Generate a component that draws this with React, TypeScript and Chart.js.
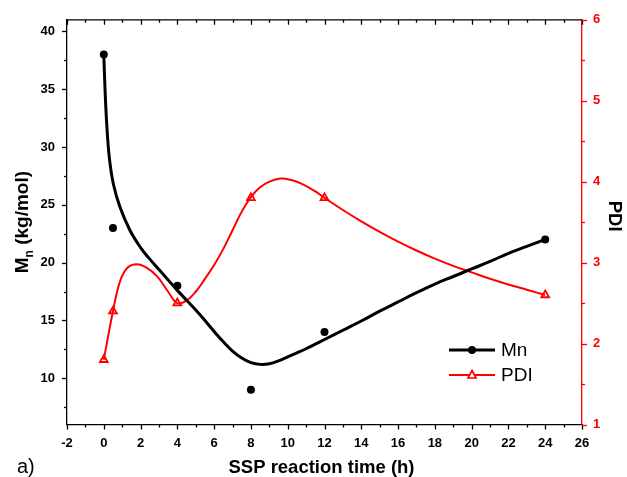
import React, { useEffect, useRef } from "react";
import { Chart, registerables } from "chart.js";

Chart.register(...registerables);

// ---- data ----
const xTickValues = [-2, 0, 2, 4, 6, 8, 10, 12, 14, 16, 18, 20, 22, 24, 26];
const mnTickValues = [10, 15, 20, 25, 30, 35, 40];
const pdiTickValues = [1, 2, 3, 4, 5, 6];

const timeH = [0, 0.5, 4, 8, 12, 24];
const mnValues = [38, 23, 18, 9, 14, 22];
const pdiValues = [1.8, 2.4, 2.5, 3.8, 3.8, 2.6];

// smooth fit curves
const mnCurveX = [0, 0.07, 0.16, 0.3, 0.52, 0.88, 1.42, 2.0, 2.5, 3.0, 3.5, 4.0, 4.5, 5.0, 5.5, 6.0, 6.5, 7.0, 7.5, 8.0, 8.5, 9.0, 9.5, 10.0, 10.5, 11.0, 11.5, 12, 13, 14, 15, 16, 17, 18, 19, 20, 21, 22, 23, 24];
const mnCurveY = [38, 34.9, 32.0, 29.1, 26.8, 24.8, 22.8, 21.3, 20.3, 19.4, 18.5, 17.6, 16.75, 15.9, 15.0, 14.05, 13.15, 12.35, 11.75, 11.35, 11.2, 11.25, 11.5, 11.85, 12.2, 12.55, 12.95, 13.35, 14.15, 14.95, 15.8, 16.6, 17.4, 18.15, 18.8, 19.45, 20.1, 20.8, 21.4, 22.0];

const pdiCurveX = [0, 0.5, 0.9, 1.3, 1.8, 2.3, 2.9, 3.5, 4.0, 4.5, 5.0, 5.5, 6.0, 6.5, 7.0, 7.5, 8.0, 8.5, 9.0, 9.6, 10.2, 10.8, 11.5, 12, 13, 14, 15, 16, 17, 18, 19, 20, 21, 22, 23, 24];
const pdiCurveY = [1.8, 2.4, 2.78, 2.94, 2.98, 2.94, 2.83, 2.64, 2.5, 2.53, 2.64, 2.8, 2.97, 3.17, 3.4, 3.63, 3.81, 3.93, 4.0, 4.04, 4.02, 3.97, 3.88, 3.8, 3.65, 3.51, 3.38, 3.26, 3.15, 3.05, 2.96, 2.88, 2.8, 2.73, 2.665, 2.6];

const xMin = -2, xMax = 26;
const mnMin = 6, mnMax = 41;
const pdiMin = 1, pdiMax = 6;

const FONT = "'Liberation Sans', Arial, Helvetica, sans-serif";
const RED = "#ff0000";

const decorPlugin = {
  id: "decor",
  afterDraw(chart: any) {
    const ctx = chart.ctx;
    const ca = chart.chartArea;
    const sx = chart.scales.x;
    const sy = chart.scales.y;
    const sy1 = chart.scales.y1;
    ctx.save();
    ctx.lineWidth = 1.3;
    // top frame line
    ctx.strokeStyle = "#000";
    ctx.beginPath();
    ctx.moveTo(ca.left, ca.top);
    ctx.lineTo(ca.right, ca.top);
    ctx.stroke();
    // x ticks (bottom outward, top inward)
    for (let v = xMin; v <= xMax; v += 1) {
      const major = (v - xMin) % 2 === 0;
      const len = major ? 5 : 3;
      const px = Math.round(sx.getPixelForValue(v)) + 0.5;
      ctx.beginPath();
      ctx.moveTo(px, ca.bottom);
      ctx.lineTo(px, ca.bottom + len);
      ctx.moveTo(px, ca.top);
      ctx.lineTo(px, ca.top + len);
      ctx.stroke();
    }
    // left ticks
    for (let v = 7.5; v <= mnMax; v += 2.5) {
      const major = v % 5 === 0;
      const len = major ? 5 : 3;
      const py = Math.round(sy.getPixelForValue(v)) + 0.5;
      ctx.beginPath();
      ctx.moveTo(ca.left, py);
      ctx.lineTo(ca.left - len, py);
      ctx.stroke();
    }
    // right ticks
    ctx.strokeStyle = RED;
    for (let v = pdiMin; v <= pdiMax + 0.001; v += 0.5) {
      const major = Math.abs(v - Math.round(v)) < 0.01;
      const len = major ? 5 : 3;
      const py = Math.round(sy1.getPixelForValue(v)) + 0.5;
      ctx.beginPath();
      ctx.moveTo(ca.right, py);
      ctx.lineTo(ca.right + len, py);
      ctx.stroke();
    }

    // axis titles
    ctx.fillStyle = "#000";
    ctx.textBaseline = "alphabetic";
    // x title
    ctx.font = `bold 18.5px ${FONT}`;
    ctx.textAlign = "center";
    ctx.fillText("SSP reaction time (h)", (ca.left + ca.right) / 2 - 3, 473);
    // a)
    ctx.font = `20px ${FONT}`;
    ctx.textAlign = "left";
    ctx.fillText("a)", 17, 473);
    // right title
    ctx.save();
    ctx.translate(609, (ca.top + ca.bottom) / 2 - 6);
    ctx.rotate(Math.PI / 2);
    ctx.font = `bold 18.5px ${FONT}`;
    ctx.textAlign = "center";
    ctx.fillText("PDI", 0, 0);
    ctx.restore();
    // left title with subscript
    ctx.save();
    ctx.translate(28, (ca.top + ca.bottom) / 2);
    ctx.rotate(-Math.PI / 2);
    ctx.textAlign = "left";
    const big = `bold 19px ${FONT}`;
    const small = `bold 12px ${FONT}`;
    ctx.font = big;
    const wM = ctx.measureText("M").width;
    const wRest = ctx.measureText(" (kg/mol)").width;
    ctx.font = small;
    const wn = ctx.measureText("n").width;
    const total = wM + wn + wRest;
    const x0 = -total / 2;
    ctx.font = big;
    ctx.fillText("M", x0, 0);
    ctx.font = small;
    ctx.fillText("n", x0 + wM, 5);
    ctx.font = big;
    ctx.fillText(" (kg/mol)", x0 + wM + wn, 0);
    ctx.restore();

    // legend
    const lx0 = 449, lx1 = 495, mx = 472;
    const ly1 = 350, ly2 = 375;
    ctx.strokeStyle = "#000";
    ctx.lineWidth = 3;
    ctx.beginPath();
    ctx.moveTo(lx0, ly1);
    ctx.lineTo(lx1, ly1);
    ctx.stroke();
    ctx.fillStyle = "#000";
    ctx.beginPath();
    ctx.arc(mx, ly1, 4, 0, Math.PI * 2);
    ctx.fill();
    ctx.strokeStyle = RED;
    ctx.lineWidth = 2;
    ctx.beginPath();
    ctx.moveTo(lx0, ly2);
    ctx.lineTo(lx1, ly2);
    ctx.stroke();
    ctx.fillStyle = "#fff";
    ctx.lineWidth = 1.7;
    ctx.beginPath();
    ctx.moveTo(mx, ly2 - 4.5);
    ctx.lineTo(mx + 4, ly2 + 3);
    ctx.lineTo(mx - 4, ly2 + 3);
    ctx.closePath();
    ctx.fill();
    ctx.stroke();
    ctx.fillStyle = "#000";
    ctx.font = `19px ${FONT}`;
    ctx.textAlign = "left";
    ctx.textBaseline = "middle";
    ctx.fillText("Mn", 501, ly1 + 1);
    ctx.fillText("PDI", 501, ly2 + 1);
    ctx.restore();
  },
};

export default function App() {
  const ref = useRef<HTMLCanvasElement | null>(null);
  useEffect(() => {
    document.body.style.margin = "0";
    const canvas = ref.current;
    if (!canvas) return;
    const toXY = (xs: number[], ys: number[]) => xs.map((x, i) => ({ x, y: ys[i] }));
    const chart = new Chart(canvas, {
      type: "line",
      data: {
        datasets: [
          {
            label: "Mn fit",
            data: toXY(mnCurveX, mnCurveY),
            yAxisID: "y",
            borderColor: "#000",
            borderWidth: 3,
            pointRadius: 0,
            tension: 0.4,
            fill: false,
          },
          {
            label: "PDI fit",
            data: toXY(pdiCurveX, pdiCurveY),
            yAxisID: "y1",
            borderColor: RED,
            borderWidth: 2,
            pointRadius: 0,
            tension: 0.4,
            fill: false,
          },
          {
            label: "Mn",
            data: toXY(timeH, mnValues),
            yAxisID: "y",
            showLine: false,
            pointStyle: "circle",
            pointRadius: 4,
            pointBackgroundColor: "#000",
            pointBorderColor: "#000",
            pointBorderWidth: 0,
          },
          {
            label: "PDI",
            data: toXY(timeH, pdiValues),
            yAxisID: "y1",
            showLine: false,
            pointStyle: "triangle",
            pointRadius: 4.5,
            pointBackgroundColor: "#fff",
            pointBorderColor: RED,
            pointBorderWidth: 1.8,
          },
        ],
      },
      options: {
        responsive: false,
        animation: false,
        layout: { padding: { top: 19, left: 0, right: 0, bottom: 0 } },
        plugins: { legend: { display: false }, tooltip: { enabled: false } },
        scales: {
          x: {
            type: "linear",
            min: xMin,
            max: xMax,
            afterBuildTicks: (s: any) => {
              s.ticks = xTickValues.map((v) => ({ value: v }));
            },
            afterFit: (s: any) => {
              s.height = 52.5;
            },
            grid: { display: true, drawOnChartArea: false, drawTicks: false },
            border: { display: true, color: "#000", width: 1.3 },
            ticks: {
              color: "#000",
              padding: 11,
              maxRotation: 0,
              font: { family: FONT, size: 13, weight: "bold" },
            },
          },
          y: {
            type: "linear",
            position: "left",
            min: mnMin,
            max: mnMax,
            afterBuildTicks: (s: any) => {
              s.ticks = mnTickValues.map((v) => ({ value: v }));
            },
            afterFit: (s: any) => {
              s.width = 67;
            },
            grid: { display: true, drawOnChartArea: false, drawTicks: false },
            border: { display: true, color: "#000", width: 1.3 },
            ticks: {
              color: "#000",
              padding: 12,
              font: { family: FONT, size: 13, weight: "bold" },
            },
          },
          y1: {
            type: "linear",
            position: "right",
            min: pdiMin,
            max: pdiMax,
            afterBuildTicks: (s: any) => {
              s.ticks = pdiTickValues.map((v) => ({ value: v }));
            },
            afterFit: (s: any) => {
              s.width = 45;
            },
            grid: { display: true, drawOnChartArea: false, drawTicks: false },
            border: { display: true, color: RED, width: 1.3 },
            ticks: {
              color: RED,
              padding: 11,
              font: { family: FONT, size: 13, weight: "bold" },
            },
          },
        },
      },
      plugins: [decorPlugin],
    } as any);
    return () => chart.destroy();
  }, []);
  return <canvas ref={ref} width={627} height={477} style={{ display: "block" }} />;
}
